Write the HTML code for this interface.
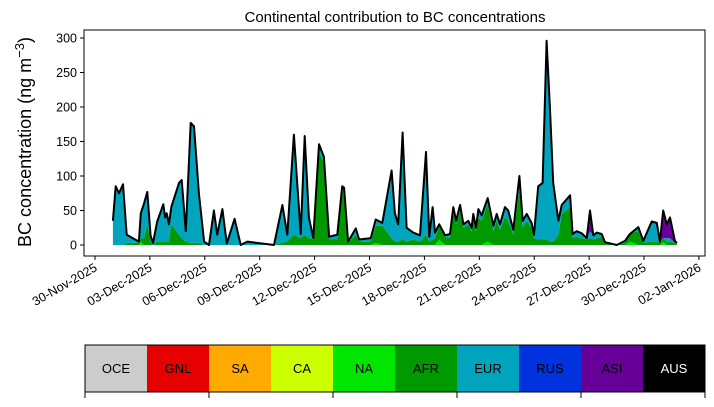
<!DOCTYPE html>
<html><head><meta charset="utf-8"><style>
body{margin:0;background:#fff;}
svg{font-family:"Liberation Sans","DejaVu Sans",sans-serif;}
</style></head><body>
<svg id="c" width="714" height="402" viewBox="0 0 714 402"></svg>
<script>
const days=[0.98,1.13,1.31,1.53,1.73,2.40,2.50,2.68,2.86,3.04,3.17,3.40,3.73,3.83,3.92,4.04,4.17,4.59,4.74,4.96,5.23,5.41,5.68,5.96,6.23,6.50,6.68,6.96,7.20,7.63,7.96,8.32,9.78,10.24,10.51,10.87,11.24,11.46,11.69,11.93,12.24,12.51,12.79,13.24,13.51,13.61,13.83,14.25,14.43,15.07,15.34,15.70,
16.21,16.39,16.57,16.81,17.03,17.39,17.76,18.09,18.27,18.45,18.58,18.81,19.13,19.40,19.58,19.73,19.95,20.13,20.40,20.58,20.67,20.82,20.95,21.13,21.46,21.77,21.95,22.13,22.40,22.58,22.86,23.19,23.37,23.59,23.86,23.99,24.22,24.46,24.68,24.86,25.04,25.32,25.50,25.96,26.10,26.32,26.60,26.87,27.05,27.23,27.42,27.69,27.87,28.51,28.96,29.23,29.69,29.96,30.42,30.70,30.87,31.05,31.24,31.42,31.69,31.80];
const total=[35,85,75,88,15,5,46,60,77,13,3,34,59,40,46,30,55,90,94,20,177,172,75,5,0,50,15,52,2,38,0,5,0,58,15,160,16,158,40,10,146,128,12,15,85,83,5,24,8,10,37,32,
108,46,30,163,25,18,14,135,12,55,18,30,14,16,55,35,58,30,35,25,45,25,52,43,68,28,45,30,55,50,22,100,35,45,32,15,85,90,296,200,90,35,58,72,16,20,17,10,50,14,18,16,4,0,6,16,26,6,34,32,5,50,30,40,6,3];
const afr=[0,0,0,0,3,3,5,10,30,5,0,5,5,5,5,5,30,15,10,5,3,3,3,0,0,0,0,0,0,0,0,0,0,3,5,15,10,15,10,8,135,120,8,8,80,70,3,15,5,5,25,28,
10,5,5,8,5,8,5,15,5,8,10,20,12,10,45,30,50,25,30,20,35,20,40,35,55,20,35,22,40,35,15,80,25,35,25,10,8,8,8,5,5,15,45,55,10,12,10,8,10,8,10,12,3,0,3,12,20,3,5,5,3,5,5,5,3,2];
const asi=[
0,0,0,0,0,0,0,0,0,0,
0,0,0,0,0,0,0,0,0,0,
2,2,0,0,0,0,0,0,0,5,
0,0,0,0,0,0,0,0,0,0,
0,0,0,0,0,0,0,0,0,0,
0,0,
0,0,0,0,0,0,0,0,0,0,
0,0,0,0,0,0,0,0,0,0,
0,0,0,0,0,0,0,0,0,0,
0,0,0,0,0,0,0,0,0,0,
0,0,0,0,0,0,0,0,30,0,
0,0,0,0,0,0,0,0,3,0,
0,40,20,30,3,0];
const na=[
0,0,0,0,0,0,5,0,0,0,
0,0,0,0,0,0,0,0,0,0,
0,0,0,0,0,0,0,0,0,0,
0,0,0,0,0,0,0,0,0,0,
0,0,0,0,0,0,0,0,0,0,
3,0,
0,0,0,0,0,0,0,0,0,0,
0,8,0,0,0,0,0,0,0,0,
0,0,0,0,5,0,0,0,0,0,
0,0,0,0,0,0,0,0,0,0,
0,0,0,0,0,0,0,0,0,0,
0,0,0,0,0,5,0,0,0,0,
0,5,0,0,0,0];
const yTicks=[0,50,100,150,200,250,300];
const xTickDays=[0,3,6,9,12,15,18,21,24,27,30,33];
const xTickLabels=['30-Nov-2025','03-Dec-2025','06-Dec-2025','09-Dec-2025','12-Dec-2025','15-Dec-2025','18-Dec-2025','21-Dec-2025','24-Dec-2025','27-Dec-2025','30-Dec-2025','02-Jan-2026'];
const regions=['OCE','GNL','SA','CA','NA','AFR','EUR','RUS','ASI','AUS'];
const regionColors=['#cccccc','#e60000','#ffaa00','#ccff00','#00e600','#009900','#00a5bd','#0033dd','#660099','#000000'];

const NS='http://www.w3.org/2000/svg';
const svg=document.getElementById('c');
function mk(tag,attrs,parent){const e=document.createElementNS(NS,tag);for(const k in attrs)e.setAttribute(k,attrs[k]);(parent||svg).appendChild(e);return e;}
const L=84,R=705,T=30,B=256;
const X=d=>95+d*18.3;
const Y=v=>245-v*0.69;
const val=(arr,i)=>(+arr[i]||0);

const t=mk('text',{x:395,y:22,'text-anchor':'middle','font-size':15,fill:'#000'});


t.textContent='Continental contribution to BC concentrations';

const yl=mk('text',{x:31,y:142,'text-anchor':'middle','font-size':18,fill:'#000',transform:'rotate(-90 31 142)'});


yl.innerHTML='BC concentration (ng m<tspan dy="-7" font-size="13">−3</tspan><tspan dy="7">)</tspan>';

const eur=total.map((v,i)=>Math.max(0,v-val(afr,i)-val(asi,i)-val(na,i)));
const layers=[['na',na,'#00e600'],['afr',afr,'#009900'],['eur',eur,'#00a5bd'],['asi',asi,'#660099']];
let base=days.map(()=>0);
layers.forEach(([nm,arr,col])=>{
  const top=base.map((b,i)=>b+val(arr,i));
  let d='M'+days.map((x,i)=>X(x).toFixed(1)+','+Y(top[i]).toFixed(1)).join('L');
  for(let i=days.length-1;i>=0;i--)d+='L'+X(days[i]).toFixed(1)+','+Y(base[i]).toFixed(1);
  const p=mk('path',{d:d+'Z',fill:col,stroke:'none'});
  
  
  base=top;
});
const ln=mk('path',{d:'M'+days.map((x,i)=>X(x).toFixed(1)+','+Y(total[i]).toFixed(1)).join('L'),fill:'none',stroke:'#000','stroke-width':2,'stroke-linejoin':'round'});



const fr=mk('rect',{x:L,y:T,width:R-L,height:B-T,fill:'none',stroke:'#000','stroke-width':1});



yTicks.forEach(v=>{
  mk('line',{x1:L-4,x2:L,y1:Y(v),y2:Y(v),stroke:'#000'});
  const tx=mk('text',{x:L-7,y:Y(v)+4.5,'text-anchor':'end','font-size':12.5,fill:'#000'});
  
  
  tx.textContent=v;
});
xTickDays.forEach((d,i)=>{
  const x=X(d);
  mk('line',{x1:x,x2:x,y1:B,y2:B+4,stroke:'#000'});
  const tx=mk('text',{x:x+3,y:B+14,'text-anchor':'end','font-size':12.5,fill:'#000',transform:`rotate(-30 ${x+3} ${B+14})`});
  
  
  tx.textContent=xTickLabels[i];
});

const lw=62;
regions.forEach((r,i)=>{
  const g=mk('g',{});
  
  
  mk('rect',{x:85+i*lw,y:345,width:lw,height:47,fill:regionColors[i]},g);
  const tx=mk('text',{x:85+i*lw+lw/2,y:373,'text-anchor':'middle','font-size':13,fill:r==='AUS'?'#fff':'#000'},g);
  tx.textContent=r;
});
mk('rect',{x:85,y:345,width:620,height:47,fill:'none',stroke:'#000','stroke-width':1});
for(let i=0;i<=10;i+=2)mk('line',{x1:85+i*lw,x2:85+i*lw,y1:392,y2:398,stroke:'#000'});
</script>
</body></html>
